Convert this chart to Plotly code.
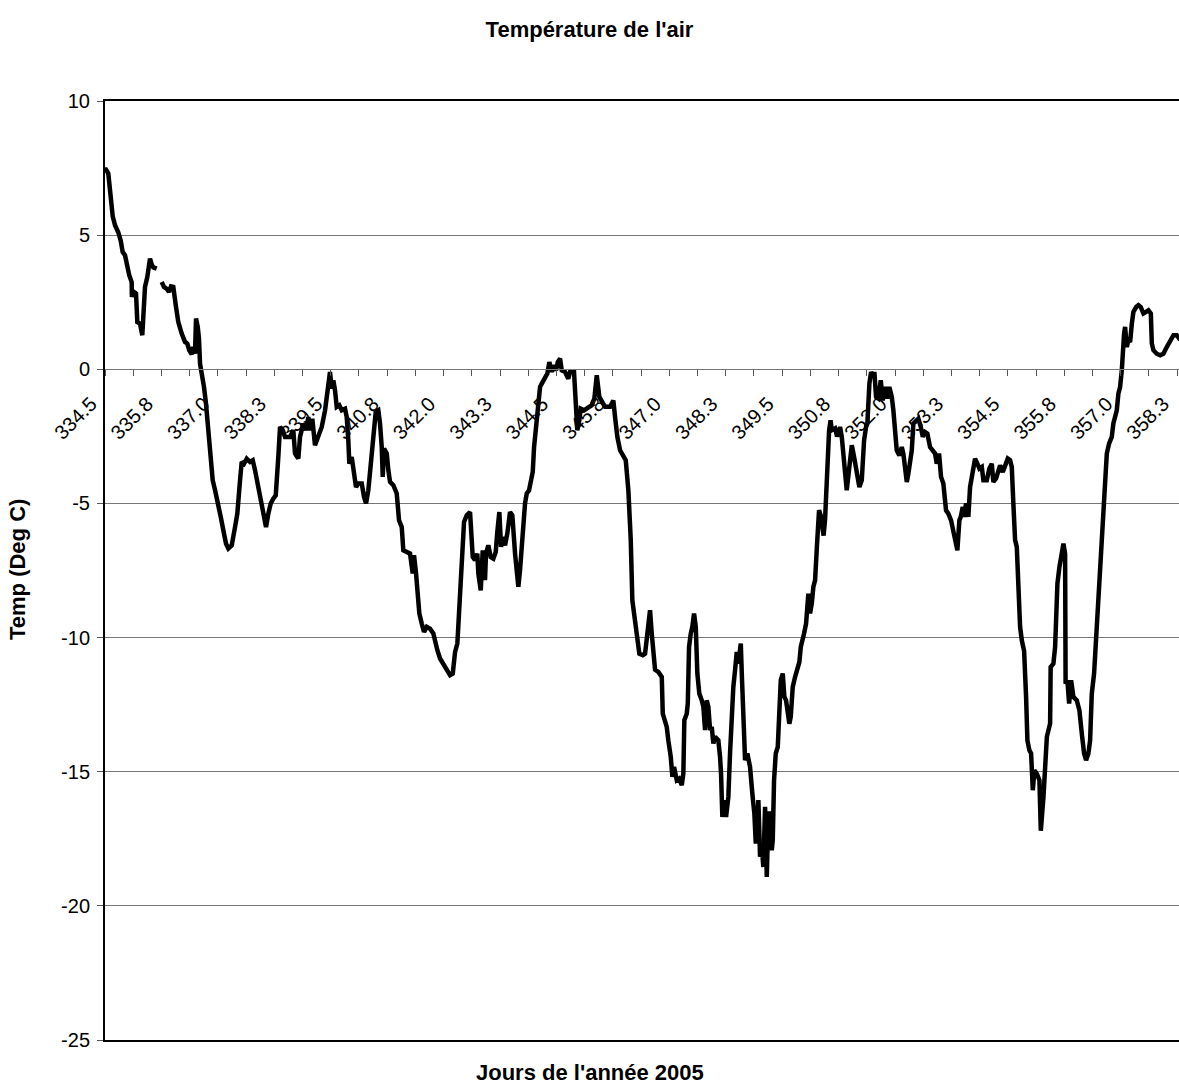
import plotly.graph_objects as go

title_text = "Température de l'air"
x_title = "Jours de l'année 2005"
y_title = "Temp (Deg C)"

days = [
    334.500, 334.522, 334.573, 334.611, 334.671, 334.722, 334.795, 334.848, 334.892, 334.943, 334.981,
    335.038, 335.091, 335.095, 335.127, 335.187, 335.216, 335.275, 335.326, 335.371, 335.386, 335.437,
    335.497, 335.535, 335.570, 335.645, None,
    335.756, 335.807, 335.867, 335.918, 335.962, 336.013, 336.073, 336.124, 336.199, 336.272, 336.323,
    336.367, 336.421, 336.456, 336.494, 336.516, 336.554, 336.582, 336.605, 336.642, 336.693, 336.737,
    336.788, 336.842, 336.886, 336.937, 337.010, 337.063, 337.121, 337.181, 337.232, 337.307, 337.380,
    337.431, 337.491, 337.528, 337.579, 337.639, 337.712, 337.772, 337.823, 337.896, 337.971, 338.029,
    338.067, 338.118, 338.171, 338.228, 338.282, 338.339, 338.377, 338.437, 338.488, 338.598, 338.671,
    338.709, 338.782, 338.820, 338.893, 338.953, 339.004, 339.041, 339.092, 339.152, 339.225, 339.301,
    339.374, 339.425, 339.484, 339.522, 339.558, 339.595, 339.633, 339.690, 339.744, 339.817, 339.854,
    339.890, 339.912, 339.965, 340.001, 340.060, 340.111, 340.187, 340.238, 340.282, 340.333, 340.386,
    340.444, 340.497, 340.554, 340.592, 340.630, 340.652, 340.681, 340.741, 340.776, 340.814, 340.887,
    340.962, 341.013, 341.073, 341.108, 341.184, 341.257, 341.316, 341.345, 341.390, 341.418, 341.463,
    341.516, 341.567, 341.627, 341.700, 341.773, 341.810, 341.862, 341.921, 341.994, 342.070, 342.143,
    342.203, 342.254, 342.305, 342.364, 342.424, 342.453, 342.513, 342.586, 342.646, 342.697, 342.747,
    342.770, 342.823, 342.867, 342.917, 342.940, 342.991, 343.044, 343.102, 343.155, 343.190, 343.235,
    343.273, 343.310, 343.361, 343.412, 343.472, 343.523, 343.583, 343.620, 343.656, 343.693, 343.753,
    343.804, 343.842, 343.893, 343.937, 343.975, 344.004, 344.048, 344.099, 344.137, 344.196, 344.247,
    344.298, 344.343, 344.396, 344.431, 344.491, 344.529, 344.580, 344.617, 344.690, 344.763, 344.801,
    344.889, 344.933, 344.962, 345.007, 345.038, 345.111, 345.207, 345.282, 345.340, 345.393, 345.450,
    345.503, 345.577, 345.687, 345.760, 345.798, 345.849, 345.909, 345.982, 346.035, 346.093, 346.146,
    346.181, 346.219, 346.279, 346.336, 346.412, 346.463, 346.514, 346.573, 346.611, 346.647, 346.684,
    346.757, 346.833, 346.855, 346.905, 346.943, 346.978, 347.032, 347.068, 347.105, 347.165, 347.216,
    347.276, 347.311, 347.333, 347.386, 347.409, 347.437, 347.475, 347.510, 347.548, 347.586, 347.621,
    347.665, 347.719, 347.754, 347.792, 347.829, 347.865, 347.903, 347.940, 347.976, 348.013, 348.086,
    348.124, 348.146, 348.175, 348.213, 348.257, 348.308, 348.345, 348.383, 348.418, 348.456, 348.494,
    348.529, 348.583, 348.611, 348.640, 348.678, 348.729, 348.788, 348.839, 348.884, 348.915, 348.950,
    348.973, 349.010, 349.048, 349.083, 349.121, 349.159, 349.194, 349.232, 349.269, 349.291, 349.320,
    349.358, 349.402, 349.438, 349.469, 349.513, 349.548, 349.586, 349.624, 349.659, 349.690, 349.734,
    349.785, 349.836, 349.881, 349.912, 349.956, 349.985, 350.029, 350.080, 350.118, 350.156, 350.191,
    350.229, 350.273, 350.317, 350.361, 350.417, 350.450, 350.494, 350.539, 350.572, 350.599, 350.672,
    350.716, 350.767, 350.782, 350.820, 350.871, 350.930, 350.988, 351.042, 351.093, 351.152, 351.210,
    351.263, 351.314, 351.358, 351.387, 351.432, 351.469, 351.520, 351.542, 351.580, 351.631, 351.684,
    351.728, 351.779, 351.830, 351.874, 351.928, 351.963, 352.001, 352.038, 352.096, 352.149, 352.184,
    352.222, 352.260, 352.295, 352.333, 352.371, 352.406, 352.466, 352.517, 352.570, 352.614, 352.665,
    352.716, 352.776, 352.836, 352.887, 352.924, 352.975, 353.019, 353.070, 353.130, 353.181, 353.241,
    353.292, 353.345, 353.381, 353.425, 353.456, 353.500, 353.529, 353.573, 353.624, 353.662, 353.700,
    353.735, 353.773, 353.824, 353.869, 353.922, 353.957, 354.032, 354.090, 354.143, 354.178, 354.238,
    354.289, 354.327, 354.387, 354.438, 354.497, 354.548, 354.586, 354.621, 354.659, 354.697, 354.732,
    354.770, 354.808, 354.859, 354.903, 354.932, 354.976, 355.014, 355.052, 355.087, 355.140, 355.198,
    355.229, 355.288, 355.363, 355.435, 355.447, 355.508, 355.546, 355.597, 355.641, 355.694, 355.730,
    355.767, 355.778, 355.818, 355.856, 355.900, 355.951, 356.026, 356.084, 356.137, 356.188, 356.232,
    356.283, 356.321, 356.358, 356.409, 356.453, 356.504, 356.558, 356.602, 356.637, 356.691, 356.741,
    356.801, 356.836, 356.874, 356.912, 356.947, 356.985, 357.023, 357.045, 357.074, 357.096, 357.134,
    357.169, 357.207, 357.245, 357.280, 357.340, 357.391, 357.444, 357.502, 357.562, 357.613, 357.666,
    357.688, 357.723, 357.798, 357.871, 357.944, 358.019, 358.093, 358.167, 358.241, 358.292, 358.400,
]

temps = [
    7.45, 7.45, 7.30, 6.70, 5.70, 5.37, 5.10, 4.80, 4.37, 4.25, 3.90,
    3.50, 3.25, 2.70, 2.90, 2.83, 1.76, 1.70, 1.27, 2.40, 3.07, 3.44,
    4.13, 3.90, 3.80, 3.75, None,
    3.25, 3.07, 3.00, 2.88, 3.09, 3.07, 2.32, 1.76, 1.33, 1.02, 0.96,
    0.71, 0.56, 0.83, 0.58, 1.89, 1.58, 1.14, 0.21, -0.10, -0.66, -1.28,
    -2.40, -3.27, -4.14, -4.50, -5.00, -5.50, -6.00, -6.50, -6.68, -6.56, -5.88,
    -5.38, -4.14, -3.45, -3.52, -3.33, -3.45, -3.39, -3.76, -4.39, -4.88, -5.50,
    -5.88, -5.38, -5.00, -4.82, -4.70, -3.27, -2.15, -2.27, -2.52, -2.52, -2.27,
    -3.14, -3.33, -2.52, -2.02, -2.27, -1.78, -2.27, -1.84, -2.83, -2.52, -2.15,
    -1.53, -0.91, -0.10, -0.72, -0.41, -0.78, -1.40, -1.34, -1.53, -1.47, -1.78,
    -2.65, -3.52, -3.27, -3.76, -4.39, -4.26, -4.26, -4.76, -5.00, -4.51, -3.52,
    -2.27, -1.59, -1.53, -2.02, -2.90, -4.01, -2.96, -3.14, -3.76, -4.20, -4.32,
    -4.63, -5.63, -5.88, -6.75, -6.81, -6.87, -7.61, -6.93, -7.61, -8.24, -9.10,
    -9.48, -9.79, -9.60, -9.67, -9.85, -10.17, -10.47, -10.78, -10.97, -11.22, -11.40,
    -11.34, -10.54, -10.22, -8.49, -6.50, -5.69, -5.44, -5.32, -7.00, -7.12, -6.87,
    -7.61, -8.24, -6.75, -7.86, -6.87, -6.56, -7.00, -7.06, -6.81, -6.06, -5.32,
    -6.62, -6.25, -6.56, -6.12, -5.32, -5.44, -6.87, -7.37, -8.11, -7.49, -6.00,
    -5.00, -4.63, -4.51, -4.14, -3.83, -2.90, -2.21, -1.40, -0.66, -0.47, -0.35,
    -0.16, 0.27, -0.10, 0.15, -0.04, 0.27, 0.40, -0.04, -0.10, -0.35, -0.10,
    -0.10, -1.16, -2.27, -1.90, -1.47, -1.53, -1.40, -1.34, -1.09, -0.22, -1.03,
    -1.22, -1.40, -1.40, -1.16, -1.78, -2.52, -3.02, -3.21, -3.39, -4.51, -6.37,
    -8.61, -9.10, -10.10, -10.60, -10.66, -10.60, -9.85, -8.98, -9.85, -10.60, -11.20,
    -11.28, -11.47, -12.84, -13.08, -13.33, -13.83, -14.45, -15.19, -14.82, -15.32, -15.26,
    -15.50, -15.07, -13.08, -12.84, -12.46, -10.35, -9.85, -9.60, -9.10, -9.60, -11.34,
    -12.09, -12.34, -12.58, -13.45, -12.34, -12.58, -13.45, -13.33, -13.95, -13.70, -13.83,
    -14.45, -15.07, -16.69, -16.06, -16.69, -15.94, -14.32, -12.58, -11.84, -11.22, -10.54,
    -10.97, -10.22, -11.59, -13.45, -14.57, -14.32, -14.82, -15.81, -16.56, -17.68, -17.18,
    -16.06, -18.17, -17.80, -18.55, -16.31, -18.92, -16.56, -16.56, -17.93, -17.55, -15.32,
    -14.32, -14.08, -12.09, -11.59, -11.34, -12.21, -12.34, -12.95, -13.21, -12.95, -11.84,
    -11.47, -11.22, -10.91, -10.35, -10.10, -9.85, -9.48, -8.36, -9.10, -8.73, -8.11,
    -7.86, -6.50, -5.25, -5.50, -6.20, -5.60, -3.80, -2.30, -1.90, -2.27, -2.20,
    -2.50, -2.28, -2.15, -2.52, -3.64, -4.51, -3.64, -2.83, -3.27, -3.89, -4.39,
    -4.14, -2.65, -2.15, -2.02, -0.53, -0.10, -0.29, -0.10, -1.03, -1.09, -0.41,
    -1.16, -0.66, -1.09, -0.66, -1.03, -1.53, -2.15, -3.02, -3.21, -2.90, -3.14,
    -3.76, -4.20, -3.89, -3.39, -3.02, -2.02, -1.90, -1.84, -2.15, -2.52, -2.34,
    -2.40, -2.90, -3.02, -3.14, -3.52, -3.14, -4.01, -4.26, -5.26, -5.38, -5.63,
    -6.12, -6.62, -6.75, -5.63, -5.50, -5.13, -5.50, -5.00, -5.50, -4.39, -4.01,
    -3.89, -3.33, -3.52, -3.70, -3.64, -4.14, -4.14, -3.70, -3.52, -4.20, -4.07,
    -3.76, -3.58, -3.83, -3.58, -3.33, -3.39, -3.64, -5.00, -6.37, -6.62, -8.00,
    -9.60, -10.10, -10.50, -12.21, -13.83, -14.20, -14.32, -15.69, -14.95, -15.07, -15.32,
    -17.20, -15.94, -13.70, -13.20, -11.10, -10.97, -10.35, -7.99, -7.37, -6.75, -6.50,
    -6.87, -11.72, -11.59, -12.46, -11.59, -12.21, -12.34, -12.71, -13.58, -14.32, -14.57,
    -14.32, -13.83, -12.09, -11.34, -10.10, -8.11, -7.12, -5.75, -4.26, -3.14, -2.77,
    -2.52, -2.02, -1.78, -1.53, -0.91, -0.66, -0.04, 0.83, 1.33, 1.58, 0.83,
    1.08, 1.02, 1.70, 2.14, 2.32, 2.39, 2.32, 2.08, 2.14, 2.20, 2.08,
    0.96, 0.71, 0.58, 0.52, 0.58, 0.83, 1.08, 1.27, 1.27, 1.15, 1.20,
]

tick_labels = ["334.5", "335.8", "337.0", "338.3", "339.5", "340.8", "342.0", "343.3", "344.5", "345.8",
               "347.0", "348.3", "349.5", "350.8", "352.0", "353.3", "354.5", "355.8", "357.0", "358.3"]
label_step = 1.25
first_day = 334.5
x_end = 358.29
y_ticks = [-25, -20, -15, -10, -5, 0, 5, 10]
y_tick_labels = ["-25", "-20", "-15", "-10", "-5", "0", "5", "10"]

tickvals = []
ticktext = []
for i, lab in enumerate(tick_labels):
    tickvals.append(first_day + i * label_step)
    ticktext.append(lab)
    tickvals.append(first_day + i * label_step + label_step / 2)
    ticktext.append("")

FONT = "Arial, Liberation Sans, sans-serif"
TICK_SIZE = 20
TITLE_SIZE = 22

fig = go.Figure()
fig.add_trace(go.Scatter(x=days, y=temps, mode="lines", connectgaps=False,
                         line=dict(color="black", width=4.5), showlegend=False,
                         hoverinfo="x+y"))

W, H = 1179, 1091
ml, mr, mt, mb = 105, 0, 101, 51
pw, ph = W - ml - mr, H - mt - mb

fig.update_layout(
    width=W, height=H,
    margin=dict(l=ml, r=mr, t=mt, b=mb, pad=0),
    paper_bgcolor="white", plot_bgcolor="white",
    font=dict(family=FONT, color="black", size=TICK_SIZE),
    title=dict(text="<b>" + title_text + "</b>", x=0.5, xref="container", xanchor="center",
               y=1 - 29 / H, yref="container", yanchor="middle",
               font=dict(family=FONT, size=TITLE_SIZE, color="black")),
    xaxis=dict(range=[first_day, x_end], showgrid=False, zeroline=False,
               showline=True, linecolor="black", linewidth=2, mirror=True,
               ticks="", showticklabels=False),
    xaxis2=dict(range=[first_day, x_end], overlaying="x", anchor="free",
                position=25 / 35, side="bottom", showgrid=False, zeroline=False,
                showline=True, linecolor="#777777", linewidth=1,
                tickmode="array", tickvals=tickvals, ticktext=ticktext,
                ticks="outside", ticklen=6, tickwidth=1, tickcolor="#555555",
                tickangle=-45, ticklabelstandoff=8, ticklabelshift=-14,
                tickfont=dict(family=FONT, size=TICK_SIZE, color="black")),
    yaxis=dict(range=[-25, 10], tickmode="array", tickvals=y_ticks, ticktext=y_tick_labels,
               showgrid=True, gridcolor="#777777", gridwidth=1, zeroline=False,
               showline=True, linecolor="black", linewidth=2,
               ticks="outside", ticklen=6, tickcolor="#555555", ticklabelstandoff=3,
               tickfont=dict(family=FONT, size=TICK_SIZE, color="black")),
    annotations=[
        dict(text="<b>" + x_title + "</b>", xref="paper", yref="paper",
             x=(590 - ml) / pw, y=-(1072 - (H - mb)) / ph, xanchor="center", yanchor="middle",
             showarrow=False, font=dict(family=FONT, size=TITLE_SIZE, color="black")),
        dict(text="<b>" + y_title + "</b>", xref="paper", yref="paper",
             x=-(ml - 17) / pw, y=(H - mb - 570) / ph, xanchor="center", yanchor="middle",
             textangle=-90, showarrow=False, font=dict(family=FONT, size=TITLE_SIZE, color="black")),
    ],
)

# invisible companion trace so xaxis2 is rendered
fig.add_trace(go.Scatter(x=[first_day], y=[None], xaxis="x2", mode="lines",
                         showlegend=False, hoverinfo="skip"))

fig.write_html("out.html", config={"displayModeBar": False},
               post_script="document.body.style.margin='0px';")
